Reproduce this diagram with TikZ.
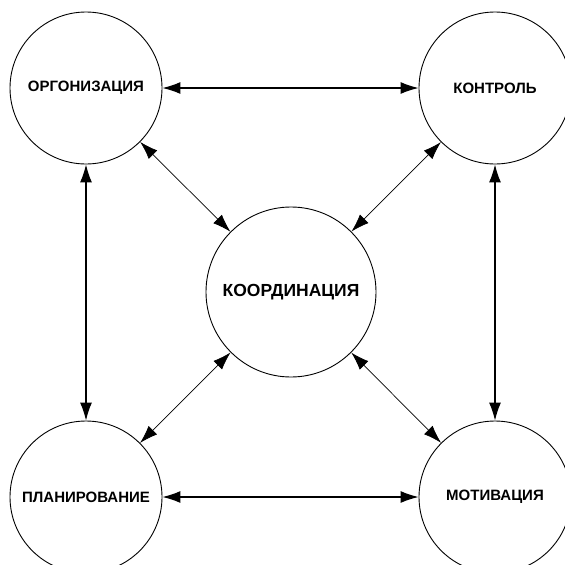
\documentclass[tikz,border=0pt]{standalone}
\usepackage{fontspec}
\setmainfont{Liberation Sans}
\usetikzlibrary{shapes.geometric, arrows.meta, positioning}

\begin{document}
\begin{tikzpicture}[x=1pt, y=-1pt]
\tikzstyle{func} = [circle, draw, line width=0.9pt, minimum size=152pt, inner sep=0pt, font=\bfseries\fontsize{15}{17}\selectfont]
\tikzstyle{link} = [{Latex[length=18pt,width=12pt]}-{Latex[length=18pt,width=12pt]}, line width=1.2pt]
\tikzstyle{diag} = [link, line width=0.7pt]

\useasboundingbox (0,0) rectangle (565,565);

% corner functions
\node (org) [func] at (86,88) {ОРГОНИЗАЦИЯ};
\node (ctrl) [func] at (495,88) {КОНТРОЛЬ};
\node (plan) [func] at (86,497) {ПЛАНИРОВАНИЕ};
\node (motiv) [func] at (495,497) {МОТИВАЦИЯ};
% centre
\node (coord) [func, minimum size=170pt, font=\bfseries\fontsize{17.5}{20}\selectfont] at (291,292) {КООРДИНАЦИЯ};

\draw [link] (org) -- (ctrl);
\draw [link] (plan) -- (motiv);
\draw [link] (org) -- (plan);
\draw [link] (ctrl) -- (motiv);

\draw [diag] (coord) -- (org);
\draw [diag] (coord) -- (ctrl);
\draw [diag] (coord) -- (plan);
\draw [diag] (coord) -- (motiv);

\end{tikzpicture}
\end{document}
